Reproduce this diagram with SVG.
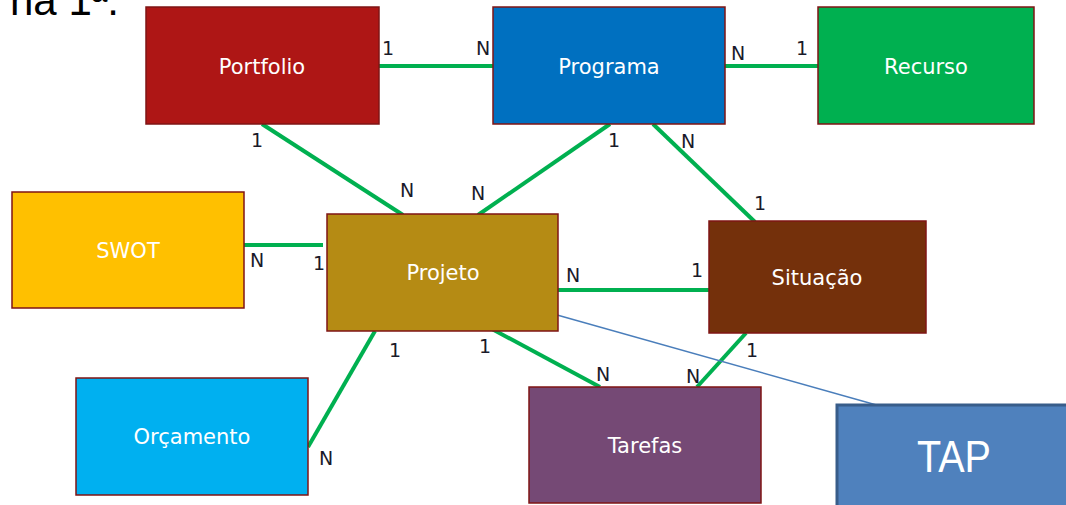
<svg xmlns="http://www.w3.org/2000/svg" width="1066" height="505" viewBox="0 0 1066 505">
<style>
.box{stroke:#7F1414;stroke-width:1.5}
.nt{font-family:"DejaVu Sans","Liberation Sans",sans-serif;font-size:21px;fill:#ffffff;text-anchor:middle}
.lb{font-family:"DejaVu Sans","Liberation Sans",sans-serif;font-size:19px;fill:#1a1a2a;text-anchor:middle}
.c{stroke:#00B050;stroke-width:4;fill:none}
</style>
<rect width="1066" height="505" fill="#ffffff"/>
<text x="10" y="15" font-family="Liberation Sans, Arial, sans-serif" font-size="42" fill="#000">na 1ª.</text>
<g id="connectors">
<line class="c" x1="379" y1="66" x2="493" y2="66"/>
<line class="c" x1="725" y1="66" x2="818" y2="66"/>
<line class="c" x1="262" y1="124" x2="403" y2="215"/>
<line class="c" x1="610" y1="124" x2="478" y2="215"/>
<line class="c" x1="653" y1="124" x2="755" y2="222"/>
<line class="c" x1="558" y1="290" x2="709" y2="290"/>
<line class="c" x1="244" y1="245" x2="323" y2="245"/>
<line class="c" x1="375" y1="331" x2="308" y2="447"/>
<line class="c" x1="492" y1="329" x2="600" y2="387"/>
<line class="c" x1="746" y1="333" x2="697" y2="387"/>
<line x1="550" y1="313" x2="880" y2="406" stroke="#4A7EBB" stroke-width="1.5"/>
</g>
<g id="portfolio"><rect class="box" x="146" y="7" width="233" height="117" fill="#AE1615"/><text class="nt" x="262" y="74">Portfolio</text></g>
<g id="programa"><rect class="box" x="493" y="7" width="232" height="117" fill="#0070C0"/><text class="nt" x="609" y="74">Programa</text></g>
<g id="recurso"><rect class="box" x="818" y="7" width="216" height="117" fill="#00B050"/><text class="nt" x="926" y="74">Recurso</text></g>
<g id="swot"><rect class="box" x="12" y="192" width="232" height="116" fill="#FFC000"/><text class="nt" x="128" y="258">SWOT</text></g>
<g id="projeto"><rect class="box" x="327" y="214" width="231" height="117" fill="#B58B14"/><text class="nt" x="443" y="280">Projeto</text></g>
<g id="situacao"><rect class="box" x="709" y="221" width="217" height="112" fill="#74300B"/><text class="nt" x="817" y="285">Situação</text></g>
<g id="orcamento"><rect class="box" x="76" y="378" width="232" height="117" fill="#00B0F0"/><text class="nt" x="192" y="444">Orçamento</text></g>
<g id="tarefas"><rect class="box" x="529" y="387" width="232" height="116" fill="#754975"/><text class="nt" x="645" y="453">Tarefas</text></g>
<g id="tap"><rect x="837" y="405" width="240" height="110" fill="#4F81BD" stroke="#385D8A" stroke-width="3"/><text x="954" y="472" font-family="Liberation Sans, Arial, sans-serif" font-size="44" fill="#ffffff" text-anchor="middle" textLength="74" lengthAdjust="spacingAndGlyphs">TAP</text></g>
<g id="labels">
<text class="lb" x="388" y="55">1</text>
<text class="lb" x="483" y="55">N</text>
<text class="lb" x="738" y="60">N</text>
<text class="lb" x="802" y="55">1</text>
<text class="lb" x="257" y="147">1</text>
<text class="lb" x="614" y="147">1</text>
<text class="lb" x="688" y="148">N</text>
<text class="lb" x="407" y="197">N</text>
<text class="lb" x="478" y="200">N</text>
<text class="lb" x="760" y="210">1</text>
<text class="lb" x="257" y="267">N</text>
<text class="lb" x="319" y="270">1</text>
<text class="lb" x="573" y="282">N</text>
<text class="lb" x="697" y="277">1</text>
<text class="lb" x="395" y="357">1</text>
<text class="lb" x="485" y="353">1</text>
<text class="lb" x="603" y="381">N</text>
<text class="lb" x="693" y="383">N</text>
<text class="lb" x="752" y="357">1</text>
<text class="lb" x="326" y="465">N</text>
</g>
</svg>
